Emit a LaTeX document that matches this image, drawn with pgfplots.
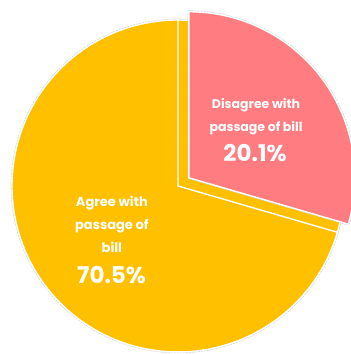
\documentclass[border=0pt]{standalone}
\usepackage{pgfplots}
\pgfplotsset{compat=1.18}
\usepackage{fontspec}
\setmainfont{Poppins}
\definecolor{agreec}{HTML}{FFC000}
\definecolor{disc}{HTML}{FF7C80}
\begin{document}
\begin{tikzpicture}
% slice values (percent of the pie)
\pgfmathsetmacro{\agree}{70.5}
\pgfmathsetmacro{\dis}{29.5}
\pgfmathsetmacro{\aend}{90-3.6*\dis}
\pgfmathsetmacro{\mid}{(90+\aend)/2}
\pgfmathsetmacro{\dx}{0.082*cos(\mid)}
\pgfmathsetmacro{\dy}{0.082*sin(\mid)}
\begin{axis}[
  scale only axis, width=351pt, height=354pt,
  xmin=-1.072, xmax=1.042, ymin=-1.012, ymax=1.120,
  axis lines=box, axis line style={draw=none}, ticks=none,
]
% Agree slice
\addplot[draw=gray!35, dash pattern=on 2pt off 1pt, line width=2.6pt, domain=\aend-360:90, samples=150, variable=\t]
  ({cos(\t)},{sin(\t)}) -- (0,0) -- cycle;
\addplot[fill=agreec, draw=white, line width=1.4pt, domain=\aend-360:90, samples=150, variable=\t]
  ({cos(\t)},{sin(\t)}) -- (0,0) -- cycle;
% Disagree slice (exploded)
\addplot[draw=gray!35, dash pattern=on 2pt off 1pt, line width=2.6pt, domain=\aend:90, samples=80, variable=\t]
  ({\dx+cos(\t)},{\dy+sin(\t)}) -- (\dx,\dy) -- cycle;
\addplot[fill=disc, draw=white, line width=1.4pt, domain=\aend:90, samples=80, variable=\t]
  ({\dx+cos(\t)},{\dy+sin(\t)}) -- (\dx,\dy) -- cycle;
% labels
\node[text=white, font=\bfseries\fontsize{12.5}{23}\selectfont, align=center] at (axis cs:0.47,0.42) {Disagree with\\passage of bill};
\node[text=white, font=\bfseries\fontsize{23}{26}\selectfont] at (axis cs:0.464,0.199) {20.1\%};
\node[text=white, font=\bfseries\fontsize{13}{23}\selectfont, align=center] at (axis cs:-0.398,-0.229) {Agree with\\passage of\\bill};
\node[text=white, font=\bfseries\fontsize{23}{26}\selectfont] at (axis cs:-0.40,-0.536) {70.5\%};
\end{axis}
\end{tikzpicture}
\end{document}
